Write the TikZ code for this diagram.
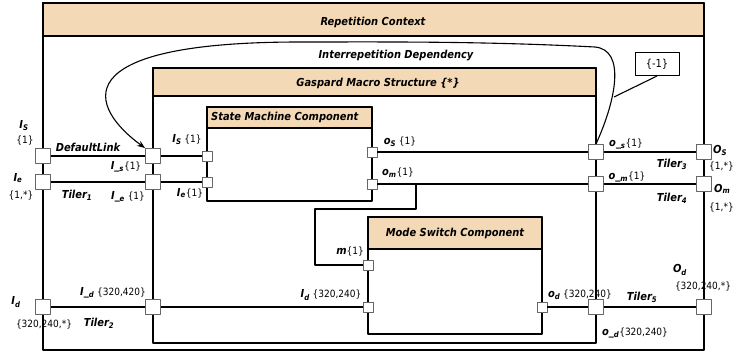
\documentclass[tikz,border=0pt]{standalone}
\usepackage{fontspec}
\setmainfont{DejaVu Sans Condensed}
\usetikzlibrary{arrows.meta}
\definecolor{hdrtan}{RGB}{244,217,182}
\newcommand{\pname}[1]{{\fontsize{11}{12}\selectfont\bfseries\itshape #1}}
\begin{document}
\begin{tikzpicture}[x=1pt, y=-1pt, >={Stealth[length=8pt,width=6pt]}, font=\fontsize{10}{11}\selectfont, line join=round]
\tikzset{
  frame/.style={draw, line width=1.4pt},
  hdr/.style={draw, fill=hdrtan, line width=1.4pt},
  bigport/.style={draw=black!60, fill=white, line width=0.9pt, minimum size=15pt, inner sep=0pt},
  smallport/.style={bigport, minimum size=10pt},
  conn/.style={line width=1.1pt},
  title/.style={font=\fontsize{11}{12}\selectfont\bfseries\itshape, inner sep=0pt},
  lbl/.style={inner sep=0pt}
}
\useasboundingbox (0,0) rectangle (736,354);
% frames
\draw[frame, fill=white] (43,3) rectangle (704,350);
\draw[hdr] (43,3) rectangle (704,36);
\node[title] (repTitle) at (373,22) {Repetition Context};
\draw[frame, fill=white] (153,68) rectangle (596,343);
\draw[hdr] (153,68) rectangle (596,96);
\node[title] (gasTitle) at (378,83) {Gaspard Macro Structure \{*\}};
\draw[frame, fill=white] (207,107) rectangle (372,201);
\draw[hdr] (207,107) rectangle (372,128);
\node[title, anchor=west] (smTitle) at (211,117) {State Machine Component};
\draw[frame, fill=white] (368,217) rectangle (542,334);
\draw[hdr] (368,217) rectangle (542,249);
\node[title] (msTitle) at (455,233) {Mode Switch Component};
% ports
\node[bigport] (Is) at (43,156) {};
\node[bigport] (Ie) at (43,182) {};
\node[bigport] (Id) at (43,307) {};
\node[bigport] (lS) at (153,156) {};
\node[bigport] (lE) at (153,182) {};
\node[bigport] (lD) at (153,307) {};
\node[smallport] (smIs) at (207,156) {};
\node[smallport] (smIe) at (207,182) {};
\node[smallport] (smOs) at (372,152) {};
\node[smallport] (smOm) at (372,184) {};
\node[smallport] (msM) at (368,265) {};
\node[smallport] (msId) at (368,307) {};
\node[smallport] (msOd) at (542,307) {};
\node[bigport] (oSG) at (596,152) {};
\node[bigport] (oMG) at (596,184) {};
\node[bigport] (oDG) at (596,307) {};
\node[bigport] (Os) at (704,152) {};
\node[bigport] (Om) at (704,184) {};
\node[bigport] (Od) at (704,307) {};
% links
\draw[conn] (Is) -- (lS) -- (smIs);
\draw[conn] (Ie) -- (lE) -- (smIe);
\draw[conn] (Id) -- (lD) -- (msId);
\draw[conn] (smOs) -- (oSG) -- (Os);
\draw[conn] (smOm) -- (oMG) -- (Om);
\draw[conn] (msOd) -- (oDG) -- (Od);
\coordinate (omTap) at (416,184);
\draw[conn] (omTap) |- (315,209) |- (msM);
% interrepetition dependency
\draw[conn, ->] (oSG.north) .. controls (616,100) and (626,50) .. (595,47)
  .. controls (480,41) and (380,42) .. (300,42)
  .. controls (60,42) and (90,108) .. (lS.north west);
\node[title] (depLbl) at (396,56) {Interrepetition Dependency};
\node[draw, line width=1pt, minimum width=44pt, minimum height=23pt, inner sep=0pt, font=\fontsize{11}{12}\selectfont] (minusOne) at (657,64) {\{-1\}};
\coordinate (depPt) at (614,97);
\draw[conn] (minusOne.south) -- (depPt);
% labels
\node[lbl] (IsName) at (24,126) {\pname{I\textsubscript{S}}};
\node[lbl] (IsMult) at (25,141) {\{1\}};
\node[lbl] (IeName) at (18,178) {\pname{I\textsubscript{e}}};
\node[lbl] (IeMult) at (21,196) {\{1,*\}};
\node[lbl] (IdName) at (16,302) {\pname{I\textsubscript{d}}};
\node[lbl] (IdMult) at (44,325) {\{320,240,*\}};
\node[lbl] (dfltLbl) at (88,147) {\pname{DefaultLink}};
\node[lbl] (tiler1) at (77,195) {\pname{Tiler\textsubscript{1}}};
\node[lbl] (tiler2) at (99,323) {\pname{Tiler\textsubscript{2}}};
\node[lbl] (lSLbl) at (126,167) {\pname{I\_\textsubscript{s}}\{1\}};
\node[lbl] (lELbl) at (128,197) {\pname{I\_\textsubscript{e}} \{1\}};
\node[lbl] (lDLbl) at (113,293) {\pname{I\_\textsubscript{d}} \{320,420\}};
\node[lbl] (smIsLbl) at (187,140) {\pname{I\textsubscript{S}} \{1\}};
\node[lbl] (smIeLbl) at (190,193) {\pname{I\textsubscript{e}}\{1\}};
\node[lbl] (smOsLbl) at (400,142) {\pname{o\textsubscript{S}} \{1\}};
\node[lbl] (smOmLbl) at (398,173) {\pname{o\textsubscript{m}}\{1\}};
\node[lbl] (msMLbl) at (350,252) {\pname{m}\{1\}};
\node[lbl] (msIdLbl) at (331,295) {\pname{I\textsubscript{d}} \{320,240\}};
\node[lbl] (msOdLbl) at (580,295) {\pname{o\textsubscript{d}} \{320,240\}};
\node[lbl] (oSGLbl) at (626,144) {\pname{o\_\textsubscript{s}}\{1\}};
\node[lbl] (oMGLbl) at (627,177) {\pname{o\_\textsubscript{m}}\{1\}};
\node[lbl] (oDGLbl) at (635,333) {\pname{o\_\textsubscript{d}}\{320,240\}};
\node[lbl] (tiler3) at (672,164) {\pname{Tiler\textsubscript{3}}};
\node[lbl] (tiler4) at (672,198) {\pname{Tiler\textsubscript{4}}};
\node[lbl] (tiler5) at (642,297) {\pname{Tiler\textsubscript{5}}};
\node[lbl, anchor=west] (OsName) at (713,150) {\pname{O\textsubscript{S}}};
\node[lbl, anchor=west] (OsMult) at (709,167) {\{1,*\}};
\node[lbl, anchor=west] (OmName) at (714,189) {\pname{O\textsubscript{m}}};
\node[lbl, anchor=west] (OmMult) at (709,208) {\{1,*\}};
\node[lbl] (OdName) at (680,270) {\pname{O\textsubscript{d}}};
\node[lbl] (OdMult) at (703,287) {\{320,240,*\}};
\end{tikzpicture}
\end{document}
